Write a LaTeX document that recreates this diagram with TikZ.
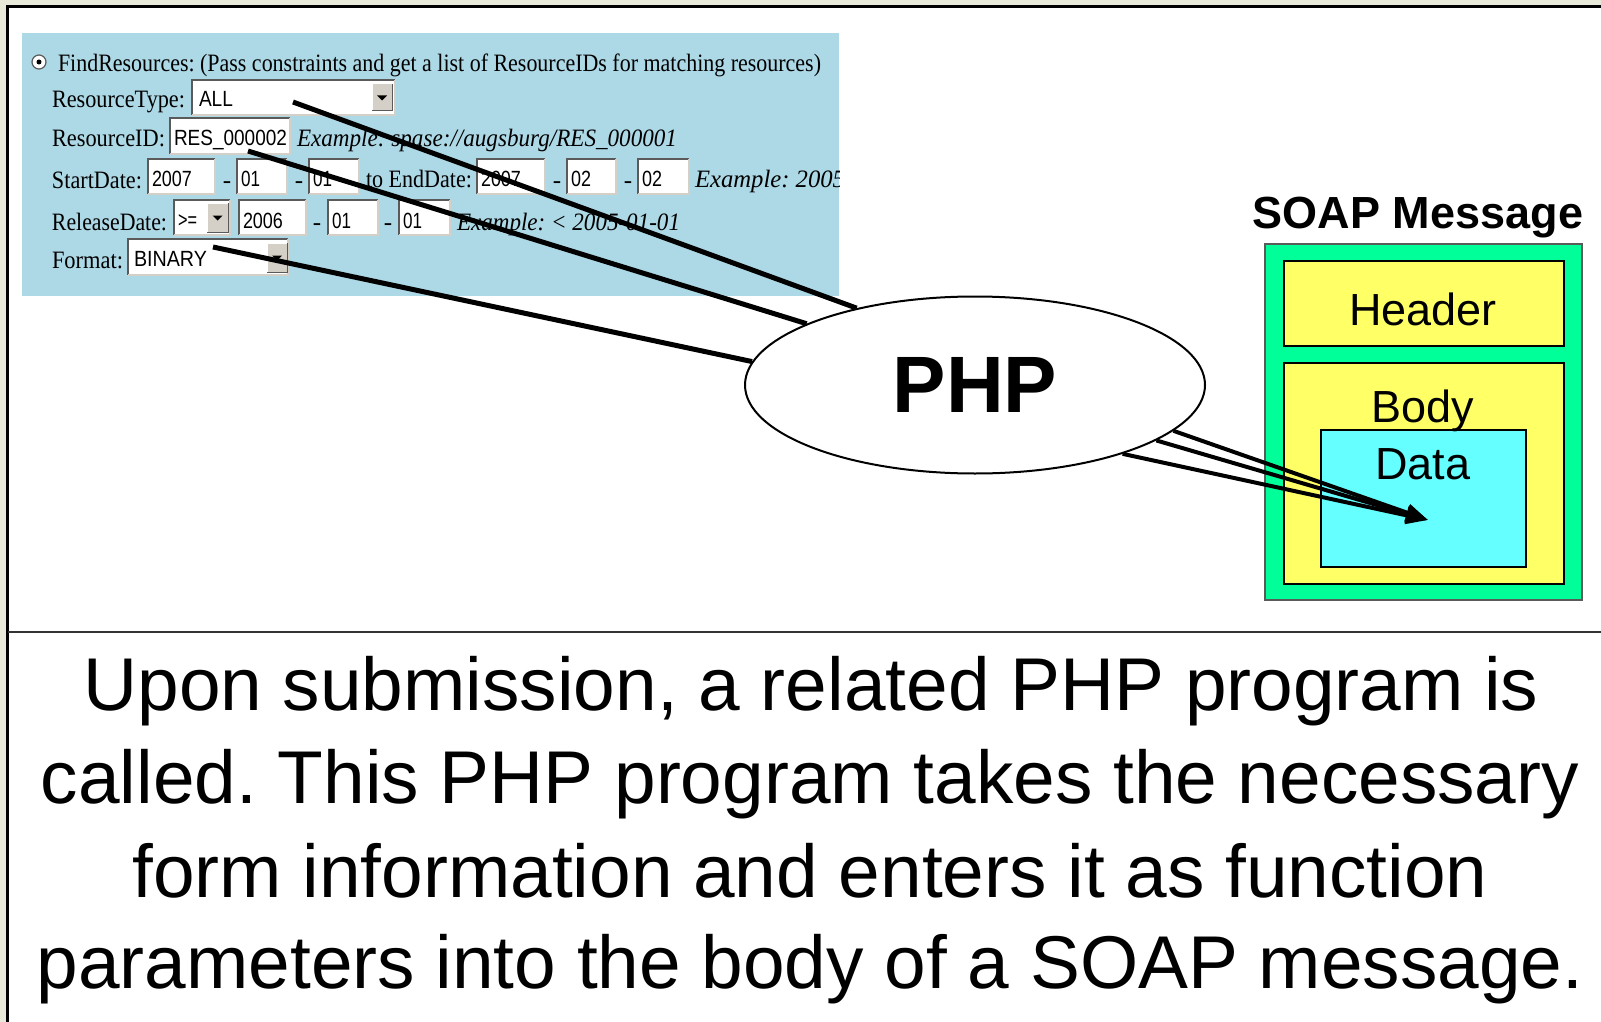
\documentclass[tikz,border=0pt]{standalone}
\usepackage{fontspec}
\usepackage{graphicx}
\setmainfont{Liberation Serif}
\newfontfamily\arialf{Liberation Sans}
\usetikzlibrary{arrows.meta,shapes.geometric}
\pgfdeclarelayer{bg}
\pgfdeclarelayer{top}
\pgfsetlayers{bg,main,top}
\definecolor{paper}{RGB}{233,233,218}
\definecolor{formblue}{RGB}{173,216,230}
\definecolor{soapgreen}{RGB}{0,255,153}
\definecolor{soapyellow}{RGB}{255,255,102}
\definecolor{soapcyan}{RGB}{102,255,255}
\definecolor{btngray}{RGB}{212,208,200}
\definecolor{fieldedge}{RGB}{90,90,90}
\definecolor{rulegray}{RGB}{50,50,50}
\frenchspacing
% squeeze a text to a given width, keeping its height
\newcommand\fitw[2]{\resizebox{#1pt}{\height}{#2}}
\newcommand\lblfont{\fontsize{25}{25}\selectfont}
\newcommand\fldfont{\arialf\fontsize{22}{22}\selectfont}
% sunken text field: left, top, right, bottom
\newcommand\fieldbox[4]{%
  \fill[white] (#1,#2) rectangle (#3,#4);
  \draw[fieldedge, line width=2pt] (#1,#4) -- (#1,#2) -- (#3,#2);
  \draw[btngray, line width=2pt] (#3,#2) -- (#3,#4) -- (#1,#4);}
% drop-down button: left, top, right, bottom
\newcommand\dropbtn[4]{%
  \fill[btngray] (#1,#2) rectangle (#3,#4);
  \draw[white, line width=1pt] (#1,#4) -- (#1,#2) -- (#3,#2);
  \draw[fieldedge, line width=1pt] (#3,#2) -- (#3,#4) -- (#1,#4);
  \fill[black] ({(#1+#3)/2-5},{(#2+#4)/2-2}) -- ({(#1+#3)/2+5},{(#2+#4)/2-2})
     -- ({(#1+#3)/2},{(#2+#4)/2+3}) -- cycle;}
\begin{document}
\begin{tikzpicture}[x=1pt,y=-1pt,
  lbl/.style={anchor=base west, inner sep=0pt, outer sep=0pt, font=\lblfont},
  eg/.style={lbl, font=\lblfont\itshape},
  fld/.style={anchor=base west, inner sep=0pt, outer sep=0pt, font=\fldfont},
  sepmark/.style={anchor=base, inner sep=0pt, font=\lblfont},
  soaplbl/.style={anchor=base, inner sep=0pt, font=\arialf\fontsize{45}{45}\selectfont},
  captionline/.style={anchor=base, inner sep=0pt, font=\arialf\fontsize{74.8}{93}\selectfont},
  wire/.style={line width=5pt, black},
  feed/.style={line width=4pt, black, -{Triangle[length=22pt,width=17pt]}},
]
\useasboundingbox (0,0) rectangle (1601,1022);

\begin{pgfonlayer}{bg}
  % page frame
  \fill[paper] (0,0) rectangle (1601,1022);
  \fill[white] (8,7) rectangle (1601,1022);
  \draw[black, line width=3pt] (7,1022) -- (7,6.5) -- (1601,6.5);
  \draw[rulegray, line width=2pt] (8,632) -- (1601,632);

  % search form
  \fill[formblue] (22,33) rectangle (839,296);
  \begin{scope}
    \clip (22,33) rectangle (839,296);
    % radio button
    \draw[fieldedge, fill=white, line width=1.2pt] (39,62) circle [radius=7pt];
    \fill[black] (39,62) circle [radius=2.5pt];
    \node[lbl] (tFind) at (58,72) {\fitw{763}{FindResources: (Pass constraints and get a list of ResourceIDs for matching resources)}};

    % ResourceType
    \node[lbl] (lType) at (52,108) {\fitw{133}{ResourceType:}};
    \fieldbox{192}{80}{395}{115}
    \dropbtn{372}{84}{392}{111}
    \node[fld] (vType) at (199,107) {\fitw{34}{ALL}};

    % ResourceID
    \node[lbl] (lID) at (52,147) {\fitw{113}{ResourceID:}};
    \fieldbox{170}{118}{290}{154}
    \node[fld] (vID) at (174,146) {\fitw{113}{RES\_000002}};
    \node[eg] (egID) at (297,147) {\fitw{380}{Example: spase://augsburg/RES\_000001}};

    % StartDate / EndDate
    \node[lbl] (lStart) at (52,188) {\fitw{90}{StartDate:}};
    \fieldbox{148}{159}{215}{194}
    \node[fld] (vSY) at (152,186) {\fitw{40}{2007}};
    \node[sepmark] (s1) at (227,188) {-};
    \fieldbox{237}{159}{287}{194}
    \node[fld] (vSM) at (241,186) {\fitw{19}{01}};
    \node[sepmark] (s2) at (299,188) {-};
    \fieldbox{309}{159}{359}{194}
    \node[fld] (vSD) at (313,186) {\fitw{19}{01}};
    \node[lbl] (lEnd) at (366,188) {\fitw{106}{to EndDate:}};
    \fieldbox{477}{159}{545}{194}
    \node[fld] (vEY) at (481,186) {\fitw{40}{2007}};
    \node[sepmark] (s3) at (557,188) {-};
    \fieldbox{567}{159}{616}{194}
    \node[fld] (vEM) at (571,186) {\fitw{20}{02}};
    \node[sepmark] (s4) at (628,188) {-};
    \fieldbox{638}{159}{689}{194}
    \node[fld] (vED) at (642,186) {\fitw{20}{02}};
    \node[eg] (egDate) at (695,188) {\fitw{150}{Example: 2005}};

    % ReleaseDate
    \node[lbl] (lRel) at (52,230) {\fitw{115}{ReleaseDate:}};
    \fieldbox{174}{200}{230}{235}
    \dropbtn{207}{203}{228}{232}
    \node[fld] (vOp) at (178,227) {\fitw{19}{>=}};
    \fieldbox{239}{200}{306}{235}
    \node[fld] (vRY) at (243,228) {\fitw{40}{2006}};
    \node[sepmark] (s5) at (317,230) {-};
    \fieldbox{328}{200}{378}{235}
    \node[fld] (vRM) at (332,228) {\fitw{19}{01}};
    \node[sepmark] (s6) at (388,230) {-};
    \fieldbox{399}{200}{450}{235}
    \node[fld] (vRD) at (403,228) {\fitw{19}{01}};
    \node[eg] (egRel) at (457,230) {\fitw{223}{Example: < 2005-01-01}};

    % Format
    \node[lbl] (lFmt) at (52,268) {\fitw{71}{Format:}};
    \fieldbox{128}{239}{288}{275}
    \dropbtn{267}{243}{287}{272}
    \node[fld] (vFmt) at (134,266) {\fitw{73}{BINARY}};
  \end{scope}

  % SOAP message
  \node[soaplbl, font=\arialf\bfseries\fontsize{45}{45}\selectfont] (soapTitle) at (1418,228) {SOAP Message};
  \node[draw=fieldedge, line width=1.5pt, fill=soapgreen, anchor=north west, inner sep=0pt,
        minimum width=317pt, minimum height=356pt] (soap) at (1264,243) {};
  \node[draw=black, line width=2pt, fill=soapyellow, anchor=north west, inner sep=0pt,
        minimum width=280pt, minimum height=85pt] (header) at (1283,260) {};
  \node[draw=black, line width=2pt, fill=soapyellow, anchor=north west, inner sep=0pt,
        minimum width=280pt, minimum height=221pt] (body) at (1283,362) {};
  \node[draw=black, line width=2pt, fill=soapcyan, anchor=north west, inner sep=0pt,
        minimum width=205pt, minimum height=137pt] (data) at (1320,429) {};
  \node[soaplbl] (headerTxt) at (1423,325) {Header};
  \node[soaplbl] (bodyTxt) at (1423,422) {Body};
  \node[soaplbl] (dataTxt) at (1423,479) {Data};
\end{pgfonlayer}

% the PHP program
\begin{pgfonlayer}{top}
  \node[ellipse, draw=black, line width=2pt, fill=white, inner sep=0pt,
        minimum width=460pt, minimum height=177pt,
        font=\arialf\bfseries\fontsize{80}{80}\selectfont] (php) at (975,385) {PHP};
\end{pgfonlayer}

% form fields feeding the program
\coordinate (pType) at (293,102);
\coordinate (pID) at (248,151);
\coordinate (pFmt) at (213,247);
\coordinate (tip) at (1428,520);
\draw[wire] (pType) -- (php.147.3);
\draw[wire] (pID) -- (php.160.5);
\draw[wire] (pFmt) -- (php.174.8);

% program output into the message body
\draw[feed] (php.347.3) -- (tip);
\draw[feed] (php.343.7) -- (tip);
\draw[feed] (php.335.5) -- (tip);

% caption
\node[captionline] (cap1) at (811,710) {Upon submission, a related PHP program is};
\node[captionline] (cap2) at (810,803) {called. This PHP program takes the necessary};
\node[captionline] (cap3) at (810,897) {form information and enters it as function};
\node[captionline] (cap4) at (810,988) {parameters into the body of a SOAP message.};
\end{tikzpicture}
\end{document}
